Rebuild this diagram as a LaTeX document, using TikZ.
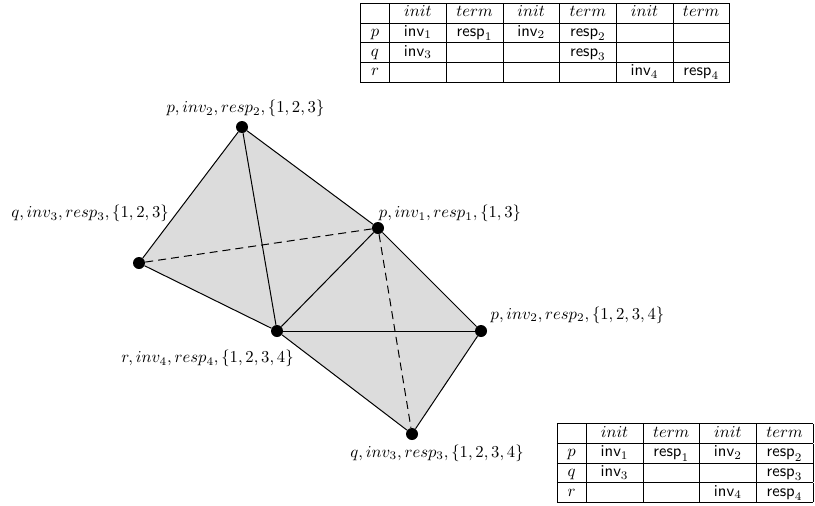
\documentclass[tikz,border=0pt]{standalone}
\usepackage{xcolor}
\usepackage{array}
\usepackage{tikz}
\usetikzlibrary{backgrounds, positioning}
\definecolor{complexGray}{HTML}{DCDCDC}
\newcolumntype{C}{w{c}{21.6pt}}
\renewcommand{\arraystretch}{0.95}

\begin{document}
\begin{tikzpicture}[x=0.6pt, y=-0.6pt,
        vertex/.style={circle, fill=black, inner sep=0pt, minimum size=7.2pt},
        vlabel/.style={inner sep=0pt},
        face/.style={line width=0.6pt},
        hidden/.style={line width=0.6pt, dash pattern=on 4.8pt off 3pt},
        history/.style={inner sep=0pt}]
        \useasboundingbox (0,0) rectangle (815,506);
        \node[vertex] (pInvTwo) at (242,127) {};
        \node[vertex] (qInvThree) at (139,263) {};
        \node[vertex] (pInvOne) at (378,228) {};
        \node[vertex] (rInvFour) at (277,331) {};
        \node[vertex] (pInvTwoB) at (481,331) {};
        \node[vertex] (qInvThreeB) at (412,434) {};
        \begin{scope}[on background layer]
            \fill[complexGray] (pInvTwo.center) -- (pInvOne.center) -- (pInvTwoB.center)
                -- (qInvThreeB.center) -- (rInvFour.center) -- (qInvThree.center) -- cycle;
        \end{scope}
        \draw[face] (pInvTwo) -- (qInvThree);
        \draw[face] (pInvTwo) -- (pInvOne);
        \draw[face] (pInvTwo) -- (rInvFour);
        \draw[face] (qInvThree) -- (rInvFour);
        \draw[face] (pInvOne) -- (rInvFour);
        \draw[face] (pInvOne) -- (pInvTwoB);
        \draw[face] (rInvFour) -- (pInvTwoB);
        \draw[face] (rInvFour) -- (qInvThreeB);
        \draw[face] (pInvTwoB) -- (qInvThreeB);
        \draw[hidden] (qInvThree) -- (pInvOne);
        \draw[hidden] (pInvOne) -- (qInvThreeB);
        \node[vlabel] (tpInvTwo) at (245.5,108.5) {$p, inv_2, resp_2, \{1,2,3\}$};
        \node[vlabel] (tqInvThree) at (90,213.5) {$q, inv_3, resp_3, \{1,2,3\}$};
        \node[vlabel] (tpInvOne) at (450,213.5) {$p, inv_1, resp_1, \{1,3\}$};
        \node[vlabel] (trInvFour) at (207.5,358.5) {$r, inv_4, resp_4, \{1,2,3,4\}$};
        \node[vlabel] (tpInvTwoB) at (577.5,315) {$p, inv_2, resp_2, \{1,2,3,4\}$};
        \node[vlabel] (tqInvThreeB) at (437,453) {$q, inv_3, resp_3, \{1,2,3,4\}$};
        \node[history] (histTop) at (545,42.5) {
            \begin{tabular}{|c|C|C|C|C|C|C|}
                \hline
                 & $init$ & $term$ & $init$ & $term$ & $init$ & $term$ \\ \hline
                $p$ & $\textsf{inv}_1$ & $\textsf{resp}_1$ & $\textsf{inv}_2$ & $\textsf{resp}_2$ & & \\ \hline
                $q$ & $\textsf{inv}_3$ & & & $\textsf{resp}_3$ & & \\ \hline
                $r$ & & & & & $\textsf{inv}_4$ & $\textsf{resp}_4$ \\ \hline
            \end{tabular}
        };
        \node[history] (histBottom) at (685,463) {
            \begin{tabular}{|c|C|C|C|C|}
                \hline
                 & $init$ & $term$ & $init$ & $term$ \\ \hline
                $p$ & $\textsf{inv}_1$ & $\textsf{resp}_1$ & $\textsf{inv}_2$ & $\textsf{resp}_2$ \\ \hline
                $q$ & $\textsf{inv}_3$ & & & $\textsf{resp}_3$ \\ \hline
                $r$ & & & $\textsf{inv}_4$ & $\textsf{resp}_4$ \\ \hline
            \end{tabular}
        };
\end{tikzpicture}
\end{document}
